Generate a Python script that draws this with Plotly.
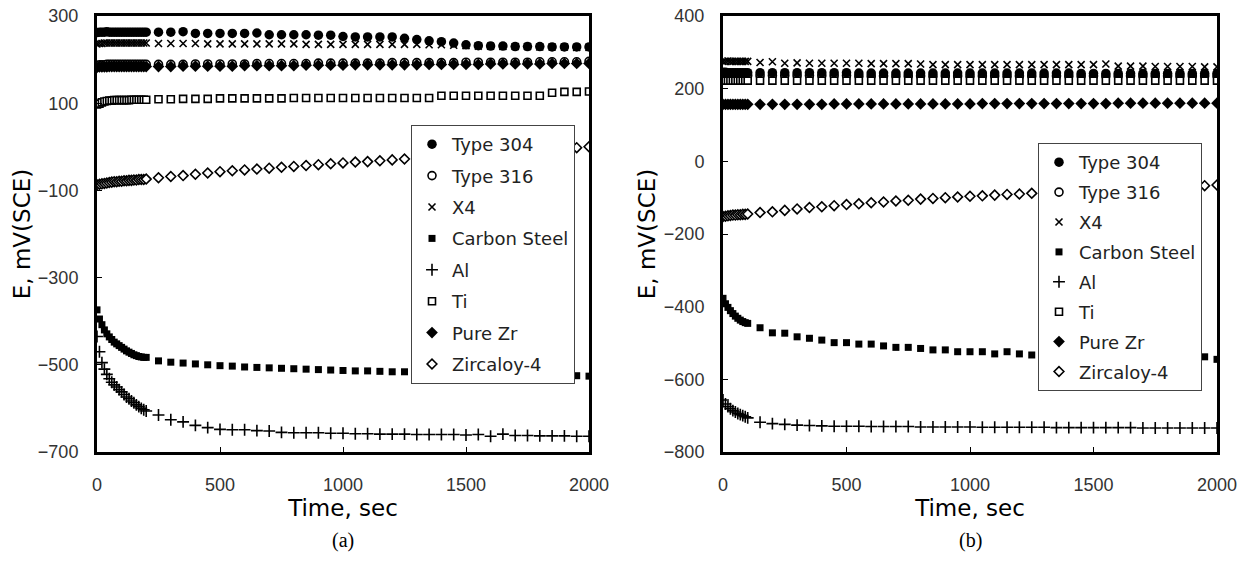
import plotly.graph_objects as go

# ---------------- data ----------------
# panel (a): time points (s)
time_a = [0, 10, 20, 30, 40, 50, 60, 70, 80, 90, 100, 110, 120, 130, 140, 150, 160, 170, 180, 190, 200,
          250, 300, 350, 400, 450, 500, 550, 600, 650, 700, 750, 800, 850, 900, 950, 1000,
          1050, 1100, 1150, 1200, 1250, 1300, 1350, 1400, 1450, 1500, 1550, 1600, 1650, 1700,
          1750, 1800, 1850, 1900, 1950, 2000]
# panel (b): time points (s)
time_b = [0, 10, 20, 30, 40, 50, 60, 70, 80, 90, 100,
          150, 200, 250, 300, 350, 400, 450, 500, 550, 600, 650, 700, 750, 800, 850, 900, 950, 1000,
          1050, 1100, 1150, 1200, 1250, 1300, 1350, 1400, 1450, 1500, 1550, 1600, 1650, 1700,
          1750, 1800, 1850, 1900, 1950, 2000]

series_names = ["Type 304", "Type 316", "X4", "Carbon Steel", "Al", "Ti", "Pure Zr", "Zircaloy-4"]

a_type304 = [262, 263, 263, 263, 264, 263, 263, 263, 263, 263, 263, 263, 263, 263, 263, 263, 263, 263, 263, 263, 263,
             263, 263, 264, 260, 260, 260, 260, 260, 261, 257, 257, 257, 257, 256, 256, 253,
             252, 252, 252, 252, 249, 246, 243, 241, 238, 234, 232, 231, 231, 230,
             230, 230, 229, 229, 229, 229]
a_type316 = [187, 188, 188, 188, 189, 189, 189, 189, 189, 189, 189, 189, 189, 189, 189, 189, 189, 189, 189, 189, 189,
             189, 189, 189, 190, 190, 190, 190, 190, 191, 191, 191, 191, 191, 192, 192, 192,
             192, 192, 192, 193, 193, 193, 193, 193, 193, 194, 194, 194, 194, 194,
             194, 195, 195, 195, 195, 196]
a_x4 = [236, 237, 237, 238, 238, 238, 238, 238, 238, 238, 238, 238, 238, 238, 238, 238, 238, 238, 238, 238, 238,
        237, 237, 237, 237, 236, 236, 236, 236, 236, 236, 236, 236, 235, 235, 235, 235,
        235, 235, 235, 235, 235, 235, 234, 234, 233, 232, 231, 231, 230, 230,
        230, 229, 229, 229, 228, 228]
a_carbon = [-374, -395, -408, -420, -429, -436, -442, -448, -452, -456, -460, -464, -468, -471, -474, -477, -479, -481, -482, -483, -483,
            -491, -494, -496, -498, -500, -502, -503, -505, -506, -507, -508, -509, -510, -511, -512, -513,
            -514, -514, -515, -516, -516, -517, -517, -518, -519, -519, -520, -521, -521, -522,
            -523, -523, -524, -525, -525, -526]
a_al = [-435, -470, -495, -510, -522, -532, -540, -546, -551, -557, -562, -568, -574, -578, -583, -587, -592, -596, -600, -603, -606,
        -615, -626, -631, -639, -644, -648, -649, -649, -651, -652, -655, -656, -656, -656, -657, -657,
        -658, -658, -659, -659, -659, -660, -660, -660, -660, -661, -660, -664, -659, -662,
        -662, -663, -663, -663, -664, -664]
a_ti = [97, 99, 102, 104, 105, 106, 106, 107, 107, 107, 107, 107, 107, 107, 108, 108, 108, 108, 108, 108, 108,
        109, 109, 110, 110, 110, 111, 111, 111, 111, 111, 111, 112, 112, 112, 112, 112,
        112, 112, 112, 112, 112, 112, 112, 117, 117, 117, 117, 117, 117, 117,
        117, 117, 124, 126, 126, 127]
a_purezr = [182, 183, 183, 183, 183, 184, 184, 184, 184, 184, 184, 184, 184, 184, 184, 184, 184, 184, 184, 184, 184,
            184, 184, 185, 185, 185, 185, 185, 186, 186, 186, 186, 186, 187, 187, 187, 187,
            188, 188, 188, 188, 188, 188, 189, 189, 189, 189, 189, 190, 190, 190,
            190, 190, 191, 191, 191, 191]
a_zircaloy = [-87, -86, -85, -84, -83, -82, -81, -80, -80, -79, -79, -78, -78, -77, -77, -76, -76, -75, -75, -75, -74,
              -71, -68, -66, -63, -60, -57, -55, -53, -51, -49, -47, -45, -43, -41, -39, -37,
              -35, -34, -32, -30, -28, -26, -25, -23, -21, -19, -17, -16, -14, -12,
              -10, -8, -6, -4, -2, 0]

b_type304 = [245, 245, 244, 244, 244, 244, 244, 244, 244, 244, 244,
             244, 244, 244, 244, 244, 244, 244, 244, 243, 243, 243, 243, 243, 243, 243, 243, 243, 243,
             243, 243, 243, 243, 243, 243, 243, 243, 242, 242, 242, 242, 242, 242,
             242, 242, 242, 242, 242, 242]
b_type316 = [236, 236, 236, 236, 236, 236, 236, 236, 236, 236, 236,
             236, 236, 236, 236, 236, 236, 236, 236, 235, 235, 235, 235, 235, 235, 235, 235, 235, 235,
             235, 235, 235, 235, 235, 235, 235, 235, 235, 235, 235, 235, 235, 235,
             235, 235, 235, 235, 235, 235]
b_x4 = [275, 275, 276, 275, 275, 275, 275, 275, 275, 275, 275,
        272, 274, 270, 271, 270, 270, 270, 270, 270, 269, 269, 269, 269, 268, 266, 266, 266, 266,
        266, 266, 266, 266, 266, 266, 266, 266, 266, 266, 268, 262, 262, 262,
        261, 261, 261, 261, 260, 260]
b_carbon = [-377, -392, -402, -411, -419, -426, -432, -437, -441, -444, -446,
            -458, -472, -473, -483, -487, -492, -499, -499, -503, -503, -508, -512, -512, -515, -519, -519, -524, -524,
            -524, -530, -524, -530, -533, -533, -534, -535, -535, -536, -536, -537, -537, -538,
            -538, -539, -539, -540, -538, -545]
b_al = [-657, -668, -675, -681, -686, -690, -694, -697, -700, -703, -706,
        -718, -722, -724, -726, -727, -728, -729, -729, -729, -730, -730, -730, -730, -731, -731, -731, -731, -731,
        -732, -732, -732, -732, -732, -732, -733, -733, -733, -733, -733, -733, -733, -734,
        -734, -734, -734, -734, -734, -734]
b_ti = [222, 222, 222, 222, 222, 222, 222, 222, 222, 222, 222,
        222, 222, 222, 222, 222, 222, 222, 222, 222, 222, 222, 222, 222, 222, 222, 222, 222, 222,
        222, 222, 222, 222, 222, 222, 222, 222, 222, 222, 222, 222, 222, 222,
        222, 222, 222, 222, 222, 222]
b_purezr = [157, 157, 157, 157, 157, 157, 157, 157, 157, 157, 157,
            157, 157, 157, 157, 157, 157, 158, 158, 158, 158, 158, 158, 158, 158, 158, 158, 158, 158,
            159, 159, 159, 159, 159, 159, 159, 159, 159, 159, 159, 160, 160, 160,
            160, 160, 160, 160, 160, 160]
b_zircaloy = [-152, -151, -150, -149, -148, -148, -147, -147, -146, -146, -145,
              -141, -139, -135, -131, -127, -125, -122, -119, -117, -114, -112, -109, -107, -104, -102, -100, -98, -96,
              -95, -93, -91, -90, -88, -86, -85, -84, -82, -81, -79, -78, -76, -75,
              -73, -72, -70, -69, -67, -65]

x_ticks = [0, 500, 1000, 1500, 2000]
y_ticks_a = [-700, -500, -300, -100, 100, 300]
y_ticks_b = [-800, -600, -400, -200, 0, 200, 400]

# ---------------- styles ----------------
styles = {
    "Type 304": dict(symbol="circle", size=9.5, color="black", line=dict(width=0)),
    "Type 316": dict(symbol="circle", size=8, color="white", line=dict(color="black", width=1.6)),
    "X4": dict(symbol="x-thin", size=7, color="black", line=dict(color="black", width=1.6)),
    "Carbon Steel": dict(symbol="square", size=7, color="black", line=dict(width=0)),
    "Al": dict(symbol="cross-thin", size=8.5, color="black", line=dict(color="black", width=1.6)),
    "Ti": dict(symbol="square", size=7, color="white", line=dict(color="black", width=1.6)),
    "Pure Zr": dict(symbol="diamond", size=9, color="black", line=dict(width=0)),
    "Zircaloy-4": dict(symbol="diamond", size=7.5, color="white", line=dict(color="black", width=1.6)),
}

data_a = [a_type304, a_type316, a_x4, a_carbon, a_al, a_ti, a_purezr, a_zircaloy]
data_b = [b_type304, b_type316, b_x4, b_carbon, b_al, b_ti, b_purezr, b_zircaloy]
# drawing order in panel (b): Type 316 lies underneath Type 304
draw_order_b = [1, 0, 2, 3, 4, 5, 6, 7]

fig = go.Figure()
for i, (name, ys) in enumerate(zip(series_names, data_a)):
    fig.add_trace(go.Scatter(x=time_a, y=ys, mode="markers", name=name, marker=styles[name],
                             xaxis="x", yaxis="y", legend="legend", legendgroup="a" + name,
                             legendrank=i + 1))
for i in draw_order_b:
    name, ys = series_names[i], data_b[i]
    fig.add_trace(go.Scatter(x=time_b, y=ys, mode="markers", name=name, marker=styles[name],
                             xaxis="x2", yaxis="y2", legend="legend2", legendgroup="b" + name,
                             legendrank=i + 1))

W, H = 1250, 566
tick_font = dict(family="Liberation Sans, Arial, sans-serif", size=18, color="#333333")
title_font = dict(family="DejaVu Sans, sans-serif", size=23, color="black")
legend_font = dict(family="DejaVu Sans, sans-serif", size=18, color="#222222")

axis_common = dict(showline=True, linewidth=3, linecolor="black", mirror=True,
                   ticks="inside", ticklen=5, tickwidth=1, tickcolor="black",
                   showgrid=False, zeroline=False, tickfont=tick_font, automargin=False)

fig.update_layout(
    width=W, height=H,
    margin=dict(l=0, r=0, t=16, b=114),
    paper_bgcolor="white", plot_bgcolor="white",
    showlegend=True,
    xaxis=dict(domain=[97 / W, 589 / W], range=[0, 2000], tickvals=x_ticks, anchor="y",
               title=dict(text="Time, sec", font=title_font, standoff=6),
               ticklabelstandoff=14, **axis_common),
    yaxis=dict(domain=[0, 1], range=[-700, 300], tickvals=y_ticks_a, anchor="x",
               title=dict(text="E, mV(SCE)", font=title_font, standoff=1),
               ticklabelstandoff=12, **axis_common),
    xaxis2=dict(domain=[723 / W, 1217 / W], range=[0, 2000], tickvals=x_ticks, anchor="y2",
                title=dict(text="Time, sec", font=title_font, standoff=6),
                ticklabelstandoff=14, **axis_common),
    yaxis2=dict(domain=[0, 1], range=[-800, 400], tickvals=y_ticks_b, anchor="x2",
                title=dict(text="E, mV(SCE)", font=title_font, standoff=2),
                ticklabelstandoff=12, **axis_common),
    legend=dict(x=575 / W, xanchor="right", y=1 - (125 - 16) / 436, yanchor="top",
                bgcolor="white", bordercolor="#444444", borderwidth=1, font=legend_font,
                traceorder="grouped", tracegroupgap=5, itemclick=False, itemdoubleclick=False),
    legend2=dict(x=1202 / W, xanchor="right", y=1 - (143 - 16) / 436, yanchor="top",
                 bgcolor="white", bordercolor="#444444", borderwidth=1, font=legend_font,
                 traceorder="grouped", tracegroupgap=3.5, itemclick=False, itemdoubleclick=False),
    annotations=[
        dict(text="(a)", x=343 / W, y=-(540 - 452) / 436, xref="paper", yref="paper",
             xanchor="center", yanchor="middle", showarrow=False,
             font=dict(family="Liberation Serif, serif", size=20, color="black")),
        dict(text="(b)", x=970 / W, y=-(540 - 452) / 436, xref="paper", yref="paper",
             xanchor="center", yanchor="middle", showarrow=False,
             font=dict(family="Liberation Serif, serif", size=20, color="black")),
    ],
)

fig.write_html("out.html")
